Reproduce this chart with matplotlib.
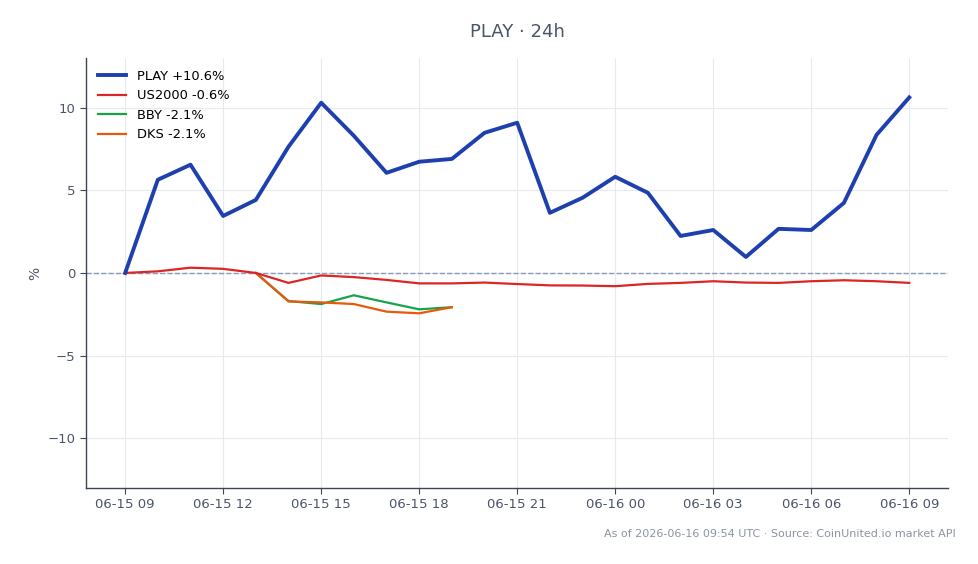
import datetime
import matplotlib
matplotlib.use('Agg')
import matplotlib.pyplot as plt
import matplotlib.dates as mdates

# hourly % change, 06-15 09:00 -> 06-16 09:00 UTC
start = datetime.datetime(2026, 6, 15, 9)
play = [0.0, 5.64, 6.55, 3.45, 4.42, 7.64, 10.3, 8.3, 6.06, 6.73, 6.9, 8.48, 9.09,
        3.64, 4.55, 5.82, 4.85, 2.24, 2.6, 0.97, 2.67, 2.6, 4.24, 8.36, 10.62]
us2000 = [0.0, 0.1, 0.32, 0.25, 0.0, -0.6, -0.15, -0.25, -0.42, -0.63, -0.63, -0.58, -0.67,
          -0.75, -0.76, -0.8, -0.66, -0.6, -0.5, -0.58, -0.6, -0.5, -0.44, -0.5, -0.6]
bby = [0.0, -1.7, -1.88, -1.35, -1.78, -2.2, -2.07]
dks = [0.0, -1.72, -1.78, -1.88, -2.34, -2.44, -2.07]
peer_start = 4  # peers start at 13:00

times = [start + datetime.timedelta(hours=h) for h in range(len(play))]
peer_times = times[peer_start:peer_start + len(bby)]

labels = ['PLAY +10.6%', 'US2000 -0.6%', 'BBY -2.1%', 'DKS -2.1%']

txt = '#4a5568'
spine = '#3b4556'

fig = plt.figure(figsize=(9.79, 5.64), dpi=100)
ax = fig.add_axes([0.0878, 0.135, 0.881, 0.762])

ax.plot(times, play, color='#1e40af', lw=2.8, label=labels[0], zorder=5)
ax.plot(times, us2000, color='#dc2626', lw=1.6, label=labels[1], zorder=4)
ax.plot(peer_times, bby, color='#16a34a', lw=1.6, label=labels[2], zorder=3)
ax.plot(peer_times, dks, color='#ea580c', lw=1.6, label=labels[3], zorder=3)
ax.axhline(0, color='#8a9bb5', lw=1, ls='--', zorder=1)

ax.set_ylim(-13, 13)
ax.set_yticks([-10, -5, 0, 5, 10])
ax.xaxis.set_major_locator(mdates.HourLocator(byhour=[0, 3, 6, 9, 12, 15, 18, 21]))
ax.xaxis.set_major_formatter(mdates.DateFormatter('%m-%d %H'))
ax.margins(x=0.05)

ax.grid(True, color='#e5e9f0', lw=0.8)
ax.set_axisbelow(True)
for s in ['top', 'right']:
    ax.spines[s].set_visible(False)
for s in ['left', 'bottom']:
    ax.spines[s].set_color(spine)
    ax.spines[s].set_linewidth(1)
ax.tick_params(colors=spine, labelcolor=txt, labelsize=9.5, length=4)

ax.set_ylabel('%', color=txt, fontsize=10)
ax.set_title('PLAY · 24h', color=txt, fontsize=13, pad=15)

leg = ax.legend(loc='upper left', frameon=False, fontsize=9.4, handlelength=2.2)

fig.text(0.976, 0.053, 'As of 2026-06-16 09:54 UTC · Source: CoinUnited.io market API',
         ha='right', va='center', fontsize=8, color='#8a94a3')

fig.savefig('out.png', dpi=100)
